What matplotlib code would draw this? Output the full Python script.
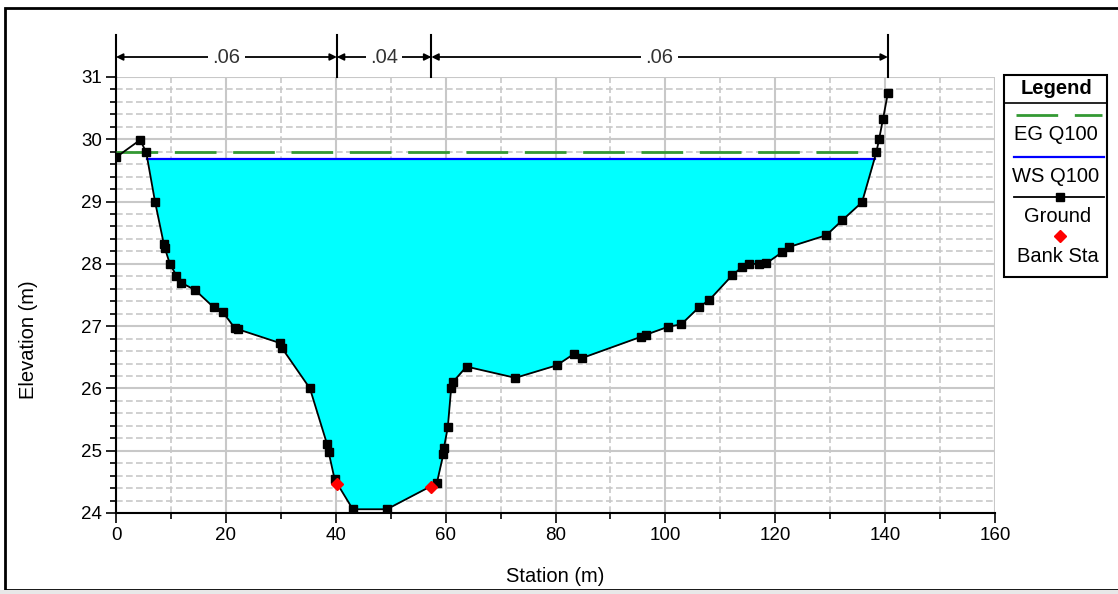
import numpy as np
import matplotlib.pyplot as plt
from matplotlib.lines import Line2D
from matplotlib.patches import Rectangle

plt.rcParams['font.family'] = ['Liberation Sans', 'DejaVu Sans']

# cross section ground points (station m, elevation m)
station = [0.0, 4.4, 5.5, 7.1, 8.7, 8.9, 9.8, 11.0, 11.8, 14.4, 17.8, 19.5,
           21.6, 22.2, 29.8, 30.2, 35.3, 38.4, 38.7, 39.8, 43.1, 49.3, 58.4,
           59.6, 59.7, 60.4, 61.0, 61.3, 63.8, 72.7, 80.2, 83.3, 84.9, 95.6,
           96.4, 100.5, 102.9, 106.2, 108.0, 112.2, 114.0, 115.3, 117.1,
           118.4, 121.3, 122.5, 129.3, 132.2, 135.8, 138.4, 138.9, 139.6, 140.5]
elevation = [29.71, 29.99, 29.79, 29.00, 28.32, 28.25, 28.00, 27.81, 27.70,
             27.58, 27.30, 27.22, 26.97, 26.95, 26.73, 26.65, 26.00, 25.11,
             24.98, 24.54, 24.06, 24.06, 24.48, 24.95, 25.05, 25.38, 26.00,
             26.10, 26.35, 26.17, 26.37, 26.55, 26.49, 26.83, 26.86, 26.99,
             27.03, 27.31, 27.42, 27.82, 27.95, 28.00, 28.00, 28.01, 28.19,
             28.27, 28.46, 28.70, 28.99, 29.79, 30.00, 30.32, 30.74]
bank_sta = [40.2, 57.4]
bank_elev = [24.47, 24.41]
ws_q100 = 29.69
eg_q100 = 29.80
n_breaks = [0.0, 40.2, 57.4, 140.5]
n_values = ['.06', '.04', '.06']

W, H = 1118, 594


def fx(px):
    return px / W


def fy(py):
    return 1 - py / H


def crossings(x, y, level):
    out = []
    for i in range(len(x) - 1):
        a, b = y[i] - level, y[i + 1] - level
        if a * b < 0:
            out.append(x[i] + (x[i + 1] - x[i]) * a / (a - b))
    return out


fig = plt.figure(figsize=(W / 100, H / 100), dpi=100)
ax = fig.add_axes([fx(116), fy(513), fx(995) - fx(116), fy(77) - fy(513)])

st = np.array(station)
el = np.array(elevation)

ax.set_xlim(0, 160)
ax.set_ylim(24, 31)
ax.set_xticks(np.arange(0, 161, 20))
ax.set_xticks(np.arange(0, 161, 10), minor=True)
ax.set_yticks(np.arange(24, 31.1, 1))
ax.set_yticks(np.arange(24, 31.01, 0.2), minor=True)
ax.grid(which='major', color='#c8c8c8', lw=1.5, ls='-')
ax.grid(which='minor', color='#c8c8c8', lw=1.2, ls=(0, (4, 2)))
ax.set_axisbelow(True)
for s in ['top', 'right']:
    ax.spines[s].set_visible(False)
ax.spines['left'].set_linewidth(1.5)
ax.spines['bottom'].set_linewidth(1.5)
ax.tick_params(which='major', length=7, width=1.2, labelsize=13.5, pad=3)
ax.tick_params(which='minor', length=4, width=1.2)

# water
ax.fill_between(st, el, ws_q100, where=el < ws_q100, interpolate=True,
                color='#00ffff', lw=0, zorder=2)
wsx = crossings(station, elevation, ws_q100)
ax.plot([wsx[0], wsx[-1]], [ws_q100, ws_q100], color='#0000ff', lw=1.6, zorder=3)
egx = crossings(station, elevation, eg_q100)
ax.plot([station[0], egx[-1]], [eg_q100, eg_q100], color='#339933', lw=2,
        dashes=(15, 6), zorder=3)

ax.plot(st, el, color='black', lw=1.3, marker='s', ms=6.2, zorder=4)
ax.plot(bank_sta, bank_elev, ls='none', marker='D', color='#ff0000', ms=6.5, zorder=5)

# n-value dimension lines
ytop = 31 + 42 / 62.3
yarr = 31 + 20 / 62.3
for b in n_breaks:
    ax.plot([b, b], [31, ytop], color='black', lw=1.5, clip_on=False, zorder=6)
for i, t in enumerate(n_values):
    ax.annotate('', xy=(n_breaks[i], yarr), xytext=(n_breaks[i + 1], yarr),
                arrowprops=dict(arrowstyle='<|-|>', color='black', lw=1.3,
                                shrinkA=0, shrinkB=0, mutation_scale=10),
                annotation_clip=False)
    ax.text((n_breaks[i] + n_breaks[i + 1]) / 2, yarr, t, ha='center', va='center',
            fontsize=14.5, color='#333333', clip_on=False,
            bbox=dict(facecolor='white', edgecolor='none', pad=3))

ax.set_xlabel('Station (m)', fontsize=14.5, va='center')
ax.set_ylabel('Elevation (m)', fontsize=14.5, va='center')
ax.xaxis.set_label_coords(0.5, -(576 - 513) / 436)
ax.yaxis.set_label_coords((28 - 116) / 879, (513 - 340) / 436)

# legend box
fig.add_artist(Rectangle((fx(1004), fy(277)), fx(1107) - fx(1004), fy(75) - fy(277),
                         transform=fig.transFigure, fill=False, lw=1.5, ec='black'))
fig.add_artist(Line2D([fx(1004), fx(1107)], [fy(103), fy(103)], color='black', lw=1.2))
fig.text(fx(1056), fy(89), 'Legend', ha='center', va='center', fontsize=14.5,
         fontweight='bold')
fig.add_artist(Line2D([fx(1016), fx(1102)], [fy(115), fy(115)], color='#339933', lw=2,
                      dashes=(15, 6)))
fig.text(fx(1056), fy(134), 'EG Q100', ha='center', va='center', fontsize=14.5)
fig.add_artist(Line2D([fx(1014), fx(1104)], [fy(157), fy(157)], color='#0000ff', lw=1.6))
fig.text(fx(1056), fy(176), 'WS Q100', ha='center', va='center', fontsize=14.5)
fig.add_artist(Line2D([fx(1014), fx(1104)], [fy(197), fy(197)], color='black', lw=1.3))
fig.add_artist(Line2D([fx(1060)], [fy(197)], color='black', marker='s', ms=6.2))
fig.text(fx(1058), fy(216), 'Ground', ha='center', va='center', fontsize=14.5)
fig.add_artist(Line2D([fx(1060)], [fy(236)], color='#ff0000', marker='D', ms=6.5))
fig.text(fx(1058), fy(257), 'Bank Sta', ha='center', va='center', fontsize=14.5)

# outer frame
fig.add_artist(Rectangle((fx(5), fy(590)), fx(1130) - fx(5), fy(8) - fy(590),
                         transform=fig.transFigure, fill=False, lw=2, ec='black'))
fig.add_artist(Rectangle((0, 0), 1, fy(590), transform=fig.transFigure,
                         color='#e8e8e8', lw=0))

fig.savefig('out.png', dpi=100)
